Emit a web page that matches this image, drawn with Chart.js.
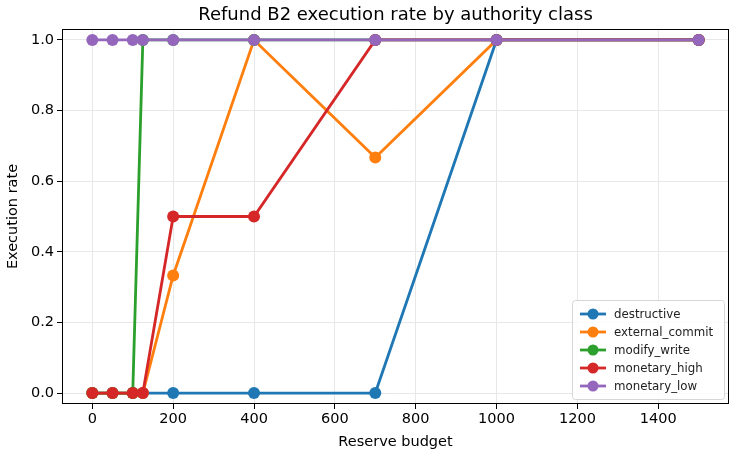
<!DOCTYPE html>
<html>
<head>
<meta charset="utf-8">
<script src="https://cdn.jsdelivr.net/npm/chart.js@4.4.1/dist/chart.umd.min.js"></script>
<style>
    html, body { margin: 0; padding: 0; background: #ffffff; }
    #wrap { width: 736px; height: 456px; }
</style>
</head>
<body>
<div id="wrap"><canvas id="rateChart"></canvas></div>
<script>
const budgets = [0, 50, 100, 125, 200, 400, 700, 1000, 1500];
const destructive = [0, 0, 0, 0, 0, 0, 0, 1, 1];
const externalCommit = [0, 0, 0, 0, 0.333, 1, 0.667, 1, 1];
const modifyWrite = [0, 0, 0, 1, 1, 1, 1, 1, 1];
const monetaryHigh = [0, 0, 0, 0, 0.5, 0.5, 1, 1, 1];
const monetaryLow = [1, 1, 1, 1, 1, 1, 1, 1, 1];
const xTicks = [0, 200, 400, 600, 800, 1000, 1200, 1400];
const yTicks = [0, 0.2, 0.4, 0.6, 0.8, 1.0];

const FONT = 'DejaVu Sans';
const seriesList = [
    { label: 'destructive', values: destructive, color: '#1f77b4' },
    { label: 'external_commit', values: externalCommit, color: '#ff7f0e' },
    { label: 'modify_write', values: modifyWrite, color: '#2ca02c' },
    { label: 'monetary_high', values: monetaryHigh, color: '#d62728' },
    { label: 'monetary_low', values: monetaryLow, color: '#9467bd' },
];

// frame, title and legend drawn like matplotlib
const mplExtras = {
    id: 'mplExtras',
    afterDraw(chart) {
        const ctx = chart.ctx;
        const a = chart.chartArea;
        ctx.save();
        ctx.strokeStyle = '#000';
        ctx.lineWidth = 1;
        ctx.strokeRect(Math.round(a.left) + 0.5, Math.round(a.top) + 0.5, Math.round(a.right - a.left) - 1, Math.round(a.bottom - a.top) - 1);

        ctx.fillStyle = '#000';
        ctx.font = '18px ' + FONT;
        ctx.textAlign = 'center';
        ctx.textBaseline = 'middle';
        ctx.fillText('Refund B2 execution rate by authority class', (a.left + a.right) / 2, 15);

        // legend box, lower right
        const bw = 152, bh = 99;
        const bx = a.right - 5 - bw, by = a.bottom - 5 - bh;
        ctx.fillStyle = 'rgba(255,255,255,0.8)';
        ctx.strokeStyle = '#d6d6d6';
        ctx.beginPath();
        ctx.roundRect(bx + 0.5, by + 0.5, bw, bh, 3);
        ctx.fill();
        ctx.stroke();
        ctx.font = '11.8px ' + FONT;
        ctx.textAlign = 'left';
        seriesList.forEach((s, i) => {
            const cy = by + 14 + i * 18;
            ctx.strokeStyle = s.color;
            ctx.lineWidth = 2.8;
            ctx.beginPath();
            ctx.moveTo(bx + 8, cy);
            ctx.lineTo(bx + 34, cy);
            ctx.stroke();
            ctx.fillStyle = s.color;
            ctx.beginPath();
            ctx.arc(bx + 21, cy, 5.5, 0, Math.PI * 2);
            ctx.fill();
            ctx.fillStyle = '#222';
            ctx.fillText(s.label, bx + 42, cy + 1);
        });
        ctx.restore();
    }
};

new Chart(document.getElementById('rateChart'), {
    type: 'line',
    data: {
        datasets: seriesList.map((s, i) => ({
            label: s.label,
            data: budgets.map((b, j) => ({ x: b, y: s.values[j] })),
            borderColor: s.color,
            backgroundColor: s.color,
            pointBackgroundColor: s.color,
            pointBorderColor: s.color,
            pointBorderWidth: 0,
            borderWidth: 2.8,
            pointRadius: 6,
            pointHoverRadius: 6,
            tension: 0,
            order: seriesList.length - i,
        }))
    },
    plugins: [mplExtras],
    options: {
        responsive: true,
        maintainAspectRatio: false,
        animation: false,
        events: [],
        layout: { padding: { top: 29, right: 7, left: 0, bottom: 0 } },
        plugins: { legend: { display: false }, title: { display: false }, tooltip: { enabled: false } },
        scales: {
            x: {
                type: 'linear',
                min: -75,
                max: 1575,
                afterBuildTicks: scale => { scale.ticks = xTicks.map(v => ({ value: v })); },
                afterFit: scale => { scale.height = 52; },
                ticks: { color: '#000', font: { family: FONT, size: 14.5 }, padding: 2, maxRotation: 0, autoSkip: false, callback: v => String(v) },
                grid: { color: '#e8e8e8', lineWidth: 1, tickColor: '#000', tickLength: 5 },
                border: { display: false },
                title: { display: true, text: 'Reserve budget', color: '#000', font: { family: FONT, size: 14.5 }, padding: { top: 0, bottom: 5 } }
            },
            y: {
                min: -0.031,
                max: 1.031,
                afterBuildTicks: scale => { scale.ticks = yTicks.map(v => ({ value: v })); },
                afterFit: scale => { scale.width = 62; },
                ticks: { color: '#000', font: { family: FONT, size: 14.5 }, padding: 3, callback: v => v.toFixed(1) },
                grid: { color: '#e8e8e8', lineWidth: 1, tickColor: '#000', tickLength: 5 },
                border: { display: false },
                title: { display: true, text: 'Execution rate', color: '#000', font: { family: FONT, size: 14.5 }, padding: { top: 5, bottom: 0 } }
            }
        }
    }
});
</script>
</body>
</html>
